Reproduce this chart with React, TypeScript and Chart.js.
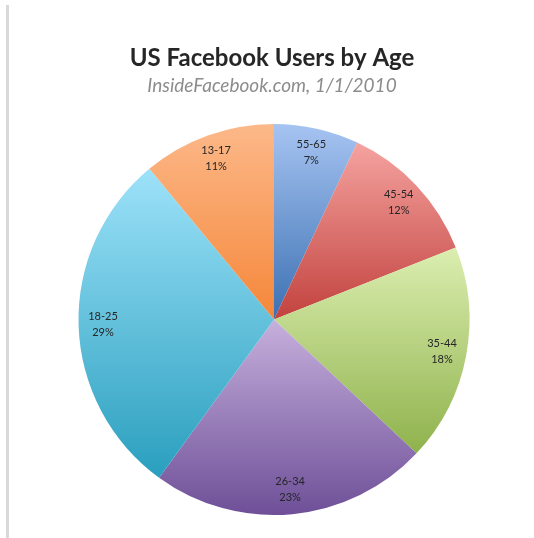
import React, { useEffect, useRef } from "react";
import { Chart, registerables } from "chart.js";

Chart.register(...registerables);

const categories = ["55-65", "45-54", "35-44", "26-34", "18-25", "13-17"];
const shares = [7, 12, 18, 23, 29, 11];
const lightColors = ["#a6c4f2", "#f5a3a0", "#dbeeb0", "#c6b0dc", "#9de2f9", "#fcb889"];
const darkColors = ["#3c70b2", "#c2423e", "#8fb24c", "#6e4f98", "#2a9fbe", "#f5873a"];
const titleText = "US Facebook Users by Age";
const subtitleText = "InsideFacebook.com, 1/1/2010";

function sliceGradient(ctx: any) {
  const chart = ctx.chart;
  const area = chart.chartArea;
  const i = ctx.dataIndex;
  if (!area || i === undefined) return lightColors[i || 0];
  const cx = (area.left + area.right) / 2;
  const cy = (area.top + area.bottom) / 2;
  const R = Math.min(area.right - area.left, area.bottom - area.top) / 2;
  const total = shares.reduce((a, b) => a + b, 0);
  let cum = 0;
  for (let k = 0; k < i; k++) cum += shares[k];
  const a0 = -Math.PI / 2 + (2 * Math.PI * cum) / total;
  const a1 = a0 + (2 * Math.PI * shares[i]) / total;
  const ys = [cy, cy + R * Math.sin(a0), cy + R * Math.sin(a1)];
  for (let k = -2; k <= 4; k++) {
    const a = Math.PI / 2 + k * Math.PI;
    if (a > a0 && a < a1) ys.push(cy + R * Math.sin(a));
  }
  const y0 = Math.min(...ys);
  const y1 = Math.max(...ys);
  const g = chart.ctx.createLinearGradient(0, y0, 0, y1);
  g.addColorStop(0, lightColors[i]);
  g.addColorStop(1, darkColors[i]);
  return g;
}

const decorPlugin = {
  id: "decor",
  beforeDraw(chart: any) {
    const c = chart.ctx;
    c.save();
    c.fillStyle = "#ffffff";
    c.fillRect(0, 0, chart.width, chart.height);
    c.fillStyle = "#d9d9d9";
    c.fillRect(6, 5, 3, chart.height - 5);
    c.textAlign = "center";
    c.textBaseline = "middle";
    c.fillStyle = "#262626";
    c.font = "bold 24px Lato, 'Open Sans', sans-serif";
    c.fillText(titleText, 272, 58);
    c.fillStyle = "#8c8c8c";
    c.font = "italic 19px Lato, 'Open Sans', sans-serif";
    c.fillText(subtitleText, 272, 86);
    c.restore();
  },
  afterDatasetsDraw(chart: any) {
    const meta = chart.getDatasetMeta(0);
    const c = chart.ctx;
    c.save();
    c.textAlign = "center";
    c.textBaseline = "middle";
    c.fillStyle = "#262626";
    c.font = "11px Lato, 'Open Sans', sans-serif";
    meta.data.forEach((arc: any, i: number) => {
      const p = arc.getProps(["x", "y", "startAngle", "endAngle", "outerRadius"], true);
      const mid = (p.startAngle + p.endAngle) / 2;
      const r = p.outerRadius * 0.875;
      const x = p.x + r * Math.cos(mid);
      const y = p.y + r * Math.sin(mid);
      c.fillText(categories[i], x, y - 8);
      c.fillText(shares[i] + "%", x, y + 8);
    });
    c.restore();
  },
};

export default function App() {
  const ref = useRef<HTMLCanvasElement>(null);
  useEffect(() => {
    if (!ref.current) return;
    const chart = new Chart(ref.current, {
      type: "pie",
      data: {
        labels: categories,
        datasets: [
          {
            data: shares,
            backgroundColor: sliceGradient as any,
            borderWidth: 0,
          },
        ],
      },
      options: {
        responsive: false,
        animation: false,
        layout: { padding: { top: 124, bottom: 23, left: 78, right: 64 } },
        plugins: {
          legend: { display: false },
          tooltip: { enabled: false },
          title: { display: false },
        },
      },
      plugins: [decorPlugin],
    });
    return () => chart.destroy();
  }, []);
  return (
    <div style={{ position: "fixed", left: 0, top: 0, width: 534, height: 538, background: "#fff" }}>
      <canvas ref={ref} width={534} height={538} style={{ display: "block", width: 534, height: 538 }} />
    </div>
  );
}
